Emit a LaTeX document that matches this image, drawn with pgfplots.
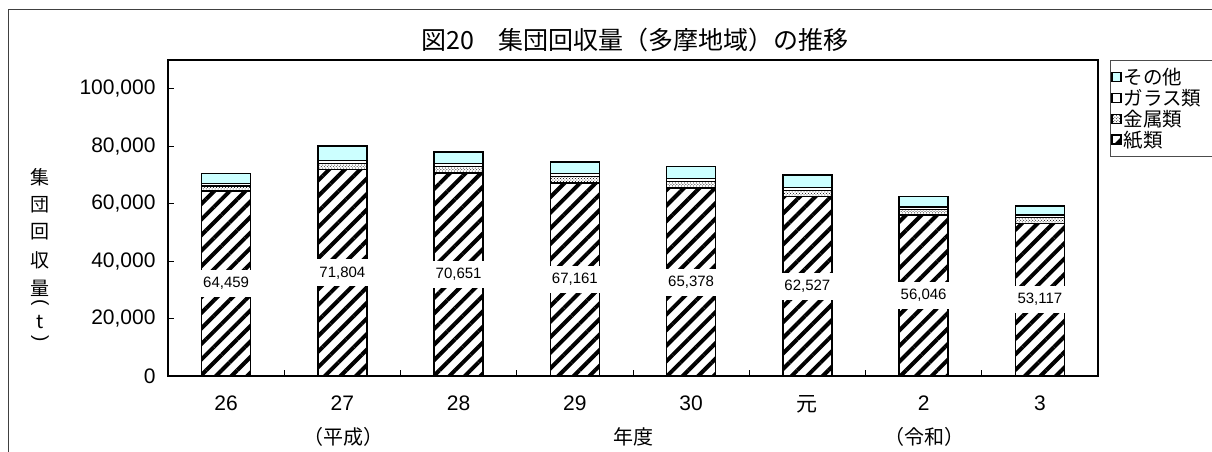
\documentclass[border=0pt]{standalone}
\usepackage{fontspec}
\setmainfont{Liberation Sans}
\newfontfamily\jp{Noto Sans CJK JP}
\usepackage{pgfplots}
\usepackage{pgfplotstable}
\pgfplotsset{compat=1.18}
\usetikzlibrary{patterns,patterns.meta}
\definecolor{othercol}{HTML}{CCFFFF}

\pgfplotstableread{
x paper metal glass other
0 64459 1600 1000 3500
1 71804 2100 1100 5000
2 70651 2300 1100 4000
3 67161 2300 1100 4000
4 65378 2300 1100 4200
5 62527 2100 1000 4400
6 56046 1900 900 3600
7 53117 2100 900 3100
}\data

\pgfplotstableread{
x half label
0 32229.5 64,459
1 35902 71,804
2 35325.5 70,651
3 33580.5 67,161
4 32689 65,378
5 31263.5 62,527
6 28023 56,046
7 26558.5 53,117
}\labels

\begin{document}
\begin{tikzpicture}[x=1bp,y=1bp]
\useasboundingbox (0,0) rectangle (1212,452);
\draw[line width=0.8bp, black!75] (8,0) -- (8,443) -- (1212,443);
\node[font=\jp\fontsize{25bp}{25bp}\selectfont] at (635,412) {図20　集団回収量（多摩地域）の推移};
\foreach \c/\yy in {集/275, 団/247, 回/220, 収/192, 量/164}
  \node[font=\jp\fontsize{19bp}{19bp}\selectfont, inner sep=0] at (40,\yy) {\c};
\node[font=\fontsize{19bp}{19bp}\selectfont, inner sep=0, rotate=-90] at (40,149) {(};
\node[font=\jp\fontsize{19bp}{19bp}\selectfont, inner sep=0] at (40,130) {t};
\node[font=\fontsize{19bp}{19bp}\selectfont, inner sep=0, rotate=-90] at (40,113) {)};
\node[font=\jp\fontsize{20bp}{20bp}\selectfont] at (343,15) {（平成）};
\node[font=\jp\fontsize{20bp}{20bp}\selectfont] at (633,15) {年度};
\node[font=\jp\fontsize{20bp}{20bp}\selectfont] at (924,15) {（令和）};
\begin{axis}[
  at={(168bp,76bp)}, anchor=south west, scale only axis,
  width=930bp, height=316bp,
  xmin=-0.5, xmax=7.5, ymin=0, ymax=110000,
  ybar stacked, bar width=49bp,
  xtick={-0.5,0.5,...,7.5}, x tick label as interval,
  xticklabels={26,27,28,29,30,{\jp 元},2,3},
  ytick={0,20000,...,100000},
  xtick pos=bottom, ytick pos=left,
  tick align=inside, major tick length=6bp,
  tick style={line width=0.8bp, black},
  axis line style={line width=2bp},
  /pgf/number format/assume math mode=true,
  /pgf/number format/.cd, fixed, 1000 sep={,}, /pgfplots/.cd,
  yticklabel style={font=\fontsize{21bp}{21bp}\selectfont, xshift=-9bp},
  xticklabel style={font=\fontsize{21bp}{21bp}\selectfont, yshift=-16bp},
  scaled y ticks=false,
  reverse legend,
  legend style={at={(1.013,1)}, anchor=north west, draw=black!70, line width=0.6bp,
    font=\jp\fontsize{19.5bp}{19.5bp}\selectfont, row sep=-1bp, inner ysep=6bp, inner xsep=1bp,
    cells={anchor=west, text width=86bp}},
  legend image code/.code={\draw[#1, line width=1.2bp] (0bp,-4.5bp) rectangle (9bp,4.5bp);},
]
\addplot[draw=black, line width=1.5bp, pattern={Lines[angle=45,distance=11bp,line width=4bp]}, pattern color=black] table[x=x,y=paper]{\data};
\addlegendentry{紙類}
\addplot[draw=black, line width=1.5bp, pattern=crosshatch dots, pattern color=black] table[x=x,y=metal]{\data};
\addlegendentry{金属類}
\addplot[draw=black, line width=1.5bp, fill=white] table[x=x,y=glass]{\data};
\addlegendentry{ガラス類}
\addplot[draw=black, line width=1.5bp, fill=othercol] table[x=x,y=other]{\data};
\addlegendentry{その他}
\end{axis}
\begin{axis}[
  at={(168bp,76bp)}, anchor=south west, scale only axis,
  width=930bp, height=316bp,
  xmin=-0.5, xmax=7.5, ymin=0, ymax=110000, hide axis, clip=false]
\addplot[draw=none, mark=none, nodes near coords, point meta=explicit symbolic,
  nodes near coords style={fill=white, anchor=center, minimum width=53bp, minimum height=27bp, inner sep=0pt, font=\fontsize{15bp}{15bp}\selectfont}]
  table[x=x,y=half,meta=label]{\labels};
\end{axis}
\end{tikzpicture}
\end{document}
